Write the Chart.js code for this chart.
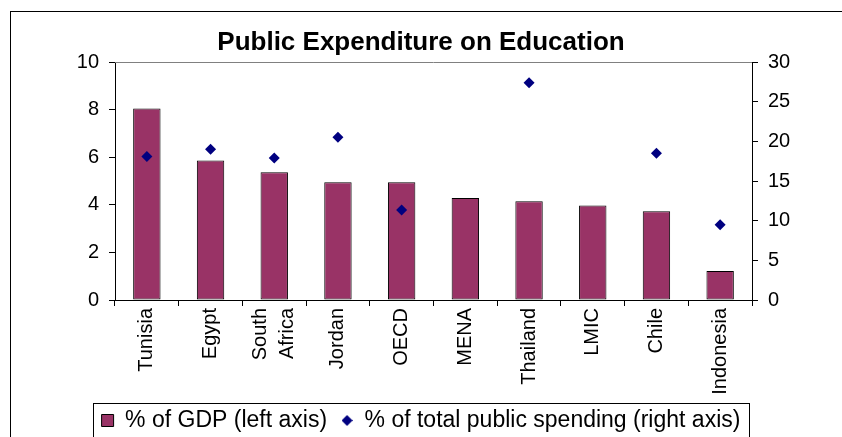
<!DOCTYPE html>
<html>
<head>
<meta charset="utf-8">
<script src="https://cdn.jsdelivr.net/npm/chart.js@4/dist/chart.umd.min.js"></script>
<style>
  html, body { margin: 0; padding: 0; background: #fff; overflow: hidden; }
  #wrap { position: relative; width: 842px; height: 442px; }
</style>
</head>
<body>
<div id="wrap"><canvas id="c"></canvas></div>
<script>
// ---- data ----
const categories = ['Tunisia', 'Egypt', ['South', 'Africa'], 'Jordan', 'OECD', 'MENA', 'Thailand', 'LMIC', 'Chile', 'Indonesia'];
const gdpShare = [8.05, 5.86, 5.37, 4.95, 4.95, 4.29, 4.15, 3.97, 3.73, 1.22];
const publicSpendingShare = [18.1, 19.0, 17.9, 20.5, 11.35, null, 27.4, null, 18.5, 9.5];
const leftTicks = [0, 2, 4, 6, 8, 10];
const rightTicks = [0, 5, 10, 15, 20, 25, 30];
const seriesNames = ['% of GDP (left axis)', '% of total public spending (right axis)'];
const chartTitle = 'Public Expenditure on Education';

const BAR = '#993366', DIAMOND = '#000080';
const FONT = "'Liberation Sans', Arial, Helvetica, sans-serif";
const X_FONT_SIZE = 20, X_LINE_HEIGHT = 1.35;

// small diamond icon for the legend
const diamondIcon = document.createElement('canvas');
diamondIcon.width = 11; diamondIcon.height = 11;
(function () {
  const g = diamondIcon.getContext('2d');
  g.fillStyle = DIAMOND;
  g.beginPath(); g.moveTo(5.5, 0); g.lineTo(11, 5.5); g.lineTo(5.5, 11); g.lineTo(0, 5.5); g.closePath(); g.fill();
})();

const framePlugin = {
  id: 'frame',
  beforeDraw(chart) {
    // centre multi-line rotated category labels on their tick
    const xs = chart.scales.x;
    const items = xs.getLabelItems();
    const lh = X_FONT_SIZE * X_LINE_HEIGHT;
    items.forEach(it => {
      if (Array.isArray(it.label) && it.label.length > 1 && !it._centred) {
        it.options.translation[0] -= (it.label.length - 1) * lh / 2;
        it._centred = true;
      }
    });
    const ctx = chart.ctx;
    ctx.save();
    ctx.fillStyle = '#fff';
    ctx.fillRect(0, 0, chart.width, chart.height);
    ctx.strokeStyle = '#000';
    ctx.lineWidth = 1;
    ctx.strokeRect(10.5, 11.5, 900, 600);
    ctx.restore();
  },
  afterDatasetsDraw(chart) {
    const ctx = chart.ctx, a = chart.chartArea;
    ctx.save();
    ctx.strokeStyle = '#808080';
    ctx.lineWidth = 1;
    ctx.beginPath();
    ctx.moveTo(a.left, Math.round(a.top) + 0.5);
    ctx.lineTo(a.right, Math.round(a.top) + 0.5);
    ctx.stroke();
    ctx.restore();
  },
  afterDraw(chart) {
    const lg = chart.legend;
    if (!lg || !lg.legendHitBoxes || !lg.legendHitBoxes.length) return;
    const hb = lg.legendHitBoxes;
    let l = Infinity, r = -Infinity;
    hb.forEach(b => { l = Math.min(l, b.left); r = Math.max(r, b.left + b.width); });
    const ctx = chart.ctx;
    ctx.save();
    ctx.strokeStyle = '#000';
    ctx.lineWidth = 1;
    ctx.strokeRect(Math.round(l - 9) + 0.5, 403.5, Math.round(r - l + 17), 200);
    ctx.restore();
  }
};

new Chart(document.getElementById('c'), {
  type: 'bar',
  data: {
    labels: categories,
    datasets: [
      {
        label: seriesNames[0],
        data: gdpShare,
        backgroundColor: BAR,
        borderColor: '#000',
        borderWidth: 1,
        borderSkipped: false,
        categoryPercentage: 1,
        barPercentage: 0.43,
        yAxisID: 'y',
        order: 2
      },
      {
        type: 'line',
        label: seriesNames[1],
        data: publicSpendingShare,
        showLine: false,
        pointStyle: 'rectRot',
        pointRadius: 5.5,
        pointHoverRadius: 5.5,
        backgroundColor: DIAMOND,
        borderColor: DIAMOND,
        borderWidth: 0,
        yAxisID: 'y2',
        order: 1
      }
    ]
  },
  options: {
    responsive: true,
    maintainAspectRatio: false,
    animation: false,
    events: [],
    layout: { padding: 0 },
    plugins: {
      title: {
        display: true,
        text: chartTitle,
        color: '#000',
        font: { family: FONT, size: 26, weight: 'bold', lineHeight: 1.2 },
        padding: { top: 27, bottom: 3.8 }
      },
      legend: {
        display: true,
        position: 'bottom',
        labels: {
          color: '#000',
          font: { family: FONT, size: 23 },
          usePointStyle: true,
          boxWidth: 12,
          boxHeight: 12,
          padding: 14,
          sort: (a, b) => a.datasetIndex - b.datasetIndex,
          generateLabels(chart) {
            const items = Chart.defaults.plugins.legend.labels.generateLabels(chart);
            items.forEach(it => {
              if (it.datasetIndex === 0) {
                it.pointStyle = 'rect';
                it.fillStyle = BAR;
                it.strokeStyle = '#000';
                it.lineWidth = 1;
              } else {
                it.pointStyle = diamondIcon;
              }
            });
            return items;
          }
        }
      },
      tooltip: { enabled: false }
    },
    scales: {
      x: {
        offset: true,
        grid: { display: true, offset: true, drawOnChartArea: false, drawTicks: true, tickLength: 6, color: '#000' },
        border: { display: true, color: '#000' },
        ticks: {
          color: '#000',
          font: { family: FONT, size: X_FONT_SIZE, lineHeight: X_LINE_HEIGHT },
          minRotation: 90,
          maxRotation: 90,
          autoSkip: false,
          padding: 2
        },
        afterFit(s) { s.height = 95; }
      },
      y: {
        position: 'left',
        min: 0,
        max: 10,
        afterBuildTicks(s) { s.ticks = leftTicks.map(v => ({ value: v })); },
        grid: { display: true, drawOnChartArea: false, drawTicks: true, tickLength: 6, color: '#000' },
        border: { display: true, color: '#000' },
        ticks: { color: '#000', font: { family: FONT, size: 20 }, padding: 10 },
        afterFit(s) { s.width = 115; }
      },
      y2: {
        position: 'right',
        min: 0,
        max: 30,
        afterBuildTicks(s) { s.ticks = rightTicks.map(v => ({ value: v })); },
        grid: { display: true, drawOnChartArea: false, drawTicks: true, tickLength: 6, color: '#000' },
        border: { display: true, color: '#000' },
        ticks: { color: '#000', font: { family: FONT, size: 20 }, padding: 10 },
        afterFit(s) { s.width = 90; }
      }
    }
  },
  plugins: [framePlugin]
});
</script>
</body>
</html>
